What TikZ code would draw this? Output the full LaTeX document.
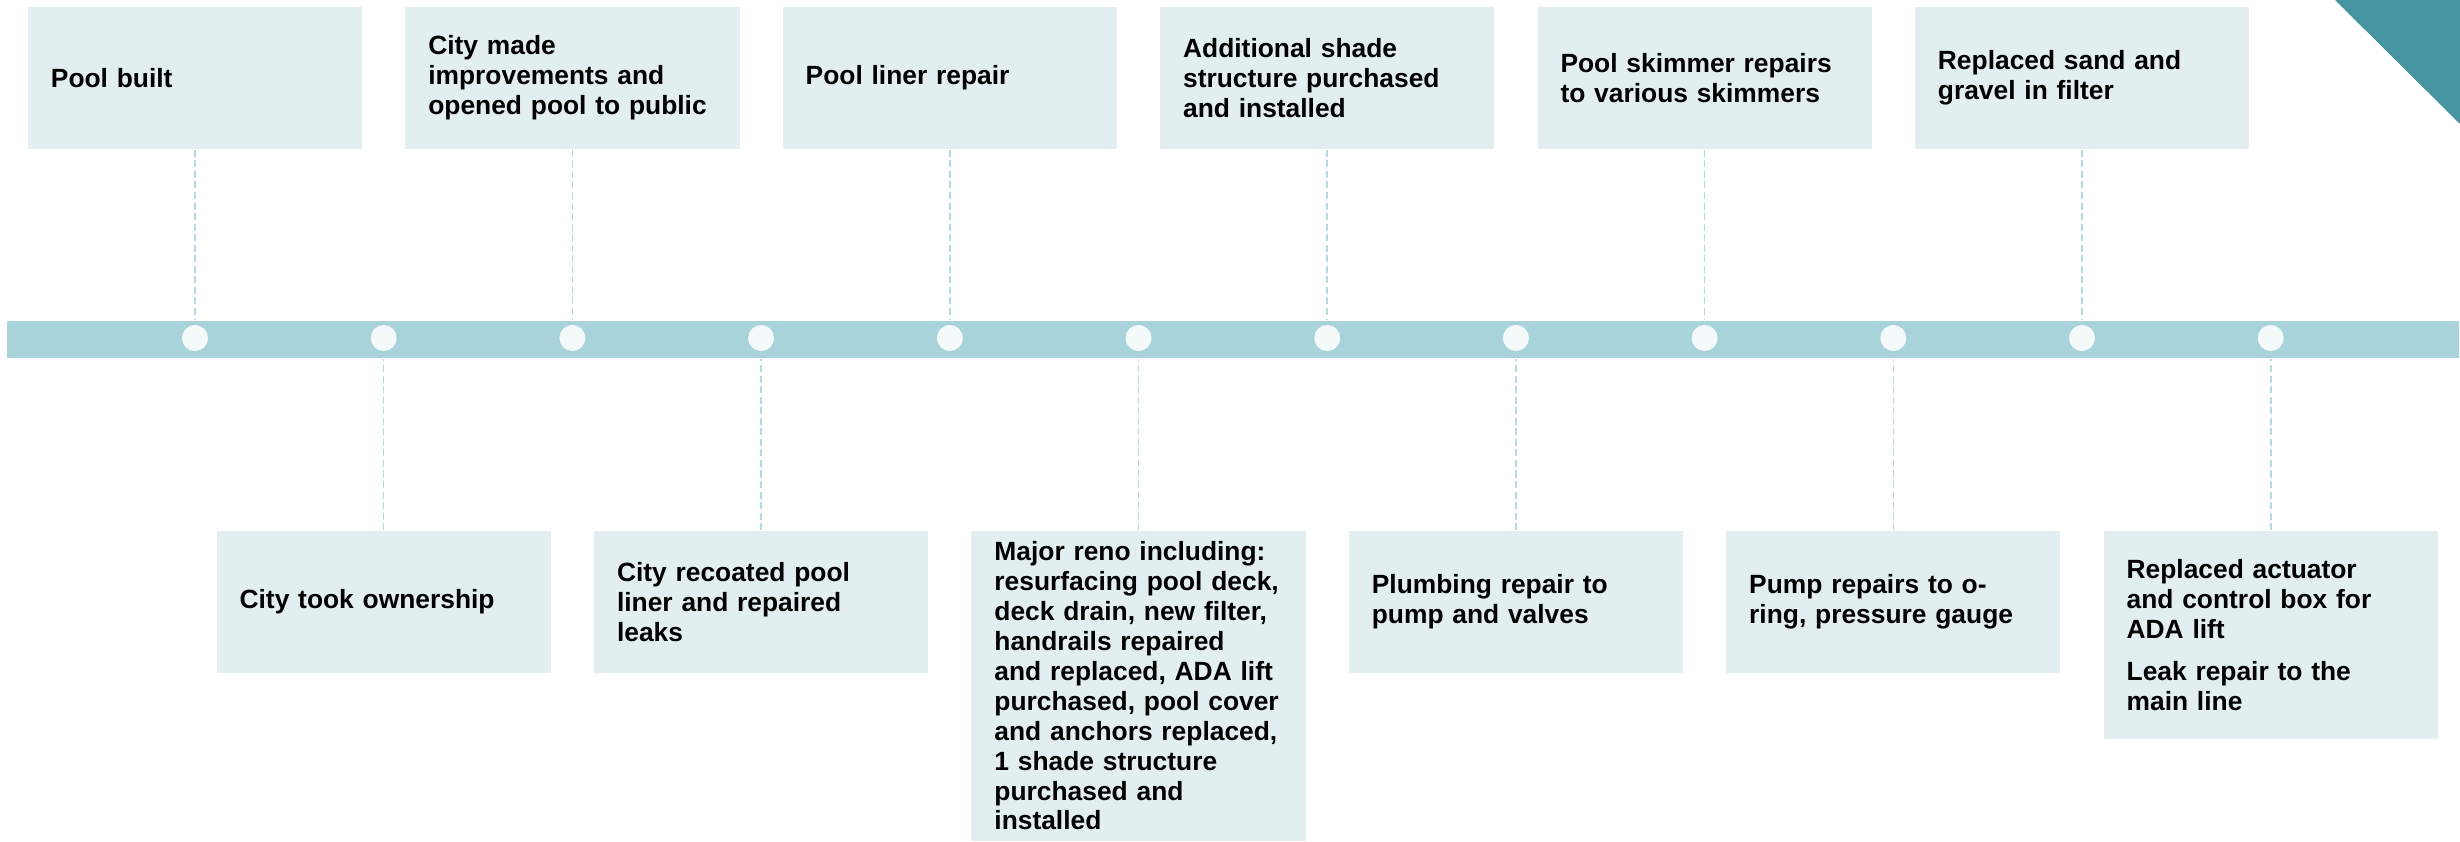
\documentclass[tikz,border=0pt]{standalone}
\usepackage{fontspec}
\setmainfont{Liberation Sans}
\usepackage{tikz}
\usetikzlibrary{positioning}
\definecolor{boxfill}{HTML}{E2EEF0}
\definecolor{barfill}{HTML}{A9D3DA}
\definecolor{stopfill}{HTML}{F4F9FA}
\definecolor{tickline}{HTML}{B3DAE0}
\definecolor{cornerfill}{HTML}{4594A0}

\begin{document}
\begin{tikzpicture}[x=0.01cm, y=-0.01cm,
  event/.style={fill=boxfill, inner xsep=0.23cm, inner ysep=0pt, text width=2.88cm,
    minimum height=1.42cm, align=left, font=\fontsize{7.5}{8.5}\selectfont\bfseries},
  stop/.style={circle, fill=stopfill, inner sep=0pt, minimum size=0.26cm},
  tick/.style={draw=tickline, line width=0.45pt, dash pattern=on 2pt off 1pt}]

  \useasboundingbox (0,0) rectangle (2460,841);

  % Corner flag
  \fill[cornerfill] (2335,0) -- (2460,0) -- (2460,124) -- cycle;

  % Timeline bar
  \node[fill=barfill, inner sep=0pt, minimum width=24.5cm, minimum height=0.37cm] (bar) at (1233,339.5) {};

  % Stops
  \foreach \i in {1,...,12}
    \node[stop] (stop-\i) at ({195+188.7*(\i-1)},338) {};

  % Events above the bar
  \foreach \i/\txt in {1/{Pool built},
      3/{City made\\improvements and\\opened pool to public},
      5/{Pool liner repair},
      7/{Additional shade\\structure purchased\\and installed},
      9/{Pool skimmer repairs\\to various skimmers},
      11/{Replaced sand and\\gravel in filter}}
    \node[event] (event-\i) at ({195+188.7*(\i-1)},78) {\txt};

  % Events below the bar
  \foreach \i/\y/\h/\txt in {2/602/1.42/{City took ownership},
      4/602/1.42/{City recoated pool\\liner and repaired\\leaks},
      6/686/3.10/{Major reno including:\\resurfacing pool deck,\\deck drain, new filter,\\handrails repaired\\and replaced, ADA lift\\purchased, pool cover\\and anchors replaced,\\1 shade structure\\purchased and\\installed},
      8/602/1.42/{Plumbing repair to\\pump and valves},
      10/602/1.42/{Pump repairs to o-\\ring, pressure gauge},
      12/635/2.08/{Replaced actuator\\and control box for\\ADA lift\\[0.12cm]Leak repair to the\\main line}}
    \node[event, minimum height=\h cm] (event-\i) at ({195+188.7*(\i-1)},\y) {\txt};

  % Dashed ticks
  \foreach \i in {1,3,...,11}
    \draw[tick] (event-\i.south) -- (event-\i.south |- bar.north);
  \foreach \i in {2,4,...,12}
    \draw[tick] (event-\i.north) -- (event-\i.north |- bar.south);

\end{tikzpicture}
\end{document}
